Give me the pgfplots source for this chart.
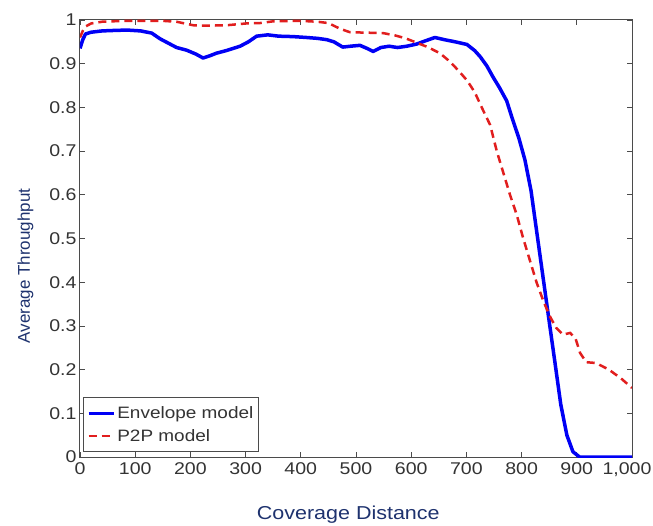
\documentclass[border=0pt]{standalone}
\usepackage{pgfplots}
\pgfplotsset{compat=1.18}
\usepackage{fontspec}
\setmainfont{Liberation Sans}[FakeStretch=1.15]
\newfontfamily\ylabfont{Liberation Sans}
\definecolor{myblue}{RGB}{0,0,245}
\definecolor{myred}{RGB}{225,30,30}
\definecolor{labcol}{RGB}{30,50,110}
\definecolor{axcol}{RGB}{75,75,75}
\pgfplotstableread{
x y
0 0.935
5 0.955
10 0.968
20 0.972
40 0.975
60 0.976
85 0.977
110 0.975
130 0.970
145 0.957
160 0.947
175 0.937
193 0.931
210 0.922
223 0.913
235 0.918
247 0.924
265 0.930
290 0.940
305 0.950
320 0.963
340 0.966
360 0.963
386 0.962
410 0.960
430 0.958
447 0.955
460 0.950
476 0.938
490 0.940
507 0.942
520 0.935
531 0.928
545 0.937
560 0.940
575 0.937
592 0.940
610 0.945
625 0.952
643 0.960
660 0.955
680 0.950
701 0.944
715 0.930
725 0.916
737 0.895
748 0.870
760 0.845
773 0.815
783 0.775
795 0.730
806 0.680
817 0.610
828 0.510
839 0.410
850 0.310
860 0.220
871 0.120
882 0.050
893 0.012
905 0.000
1000 0.000
}\envelope
\pgfplotstableread{
x y
0 0.960
5 0.975
10 0.985
20 0.992
40 0.996
80 0.998
150 0.998
175 0.996
190 0.992
205 0.988
230 0.987
266 0.988
300 0.992
326 0.993
350 0.997
400 0.998
430 0.996
450 0.993
471 0.980
489 0.972
520 0.971
549 0.970
570 0.965
590 0.958
610 0.948
630 0.938
652 0.924
670 0.905
685 0.885
701 0.862
715 0.835
730 0.794
743 0.760
755 0.700
767 0.650
779 0.600
791 0.555
803 0.500
815 0.450
827 0.400
840 0.355
852 0.320
863 0.295
875 0.280
888 0.284
898 0.270
906 0.238
917 0.217
935 0.215
958 0.200
980 0.180
1000 0.158
}\ptwop
\begin{document}
\begin{tikzpicture}
\begin{axis}[name=ax, scale only axis, width=552pt, height=437pt,
  xmin=0, xmax=1000, ymin=0, ymax=1,
  xtick={0,100,200,300,400,500,600,700,800,900,1000},
  xticklabels={0,100,200,300,400,500,600,700,800,900,{\hspace*{-10pt}1,000}},
  ytick={0,0.1,0.2,0.3,0.4,0.5,0.6,0.7,0.8,0.9,1},
  tick align=inside, major tick length=5pt,
  axis line style={axcol, line width=1pt},
  every tick/.style={axcol, line width=0.8pt},
  /pgf/number format/assume math mode=true,
  x tick label style={font=\fontsize{17}{19}\selectfont, text=black!80, yshift=-2pt},
  y tick label style={font=\fontsize{17}{19}\selectfont, text=black!80, /pgf/number format/fixed, /pgf/number format/precision=1},
  xlabel={Coverage Distance},
  ylabel={\ylabfont Average Throughput},
  xlabel style={font=\fontsize{18.7}{20}\selectfont, text=labcol, at={(axis description cs:0.486,-0.144)}, anchor=base},
  ylabel style={font=\fontsize{17}{20}\selectfont, text=labcol, at={(axis description cs:-0.0906,0.437)}, anchor=base},
  legend style={at={(axis description cs:0.006,0.011)}, anchor=south west, draw=axcol, line width=1pt,
    font=\fontsize{16.5}{18}\selectfont, inner xsep=3pt, inner ysep=7pt, row sep=5pt,
    nodes={inner sep=2pt, text=black!80}},
  legend cell align=left,
  legend image code/.code={\draw[#1] (0pt,0pt) -- (25pt,0pt);},
]
\addplot[myblue, line width=3.5pt, line join=round] table[x=x,y=y]{\envelope};
\addlegendentry{Envelope model}
\addplot[myred, line width=2.5pt, dash pattern=on 8pt off 5pt] table[x=x,y=y]{\ptwop};
\addlegendentry{P2P model}
\end{axis}
\pgfresetboundingbox
\path ([shift={(-80pt,-68pt)}]ax.south west) rectangle ([shift={(21pt,20pt)}]ax.north east);
\end{tikzpicture}
\end{document}
